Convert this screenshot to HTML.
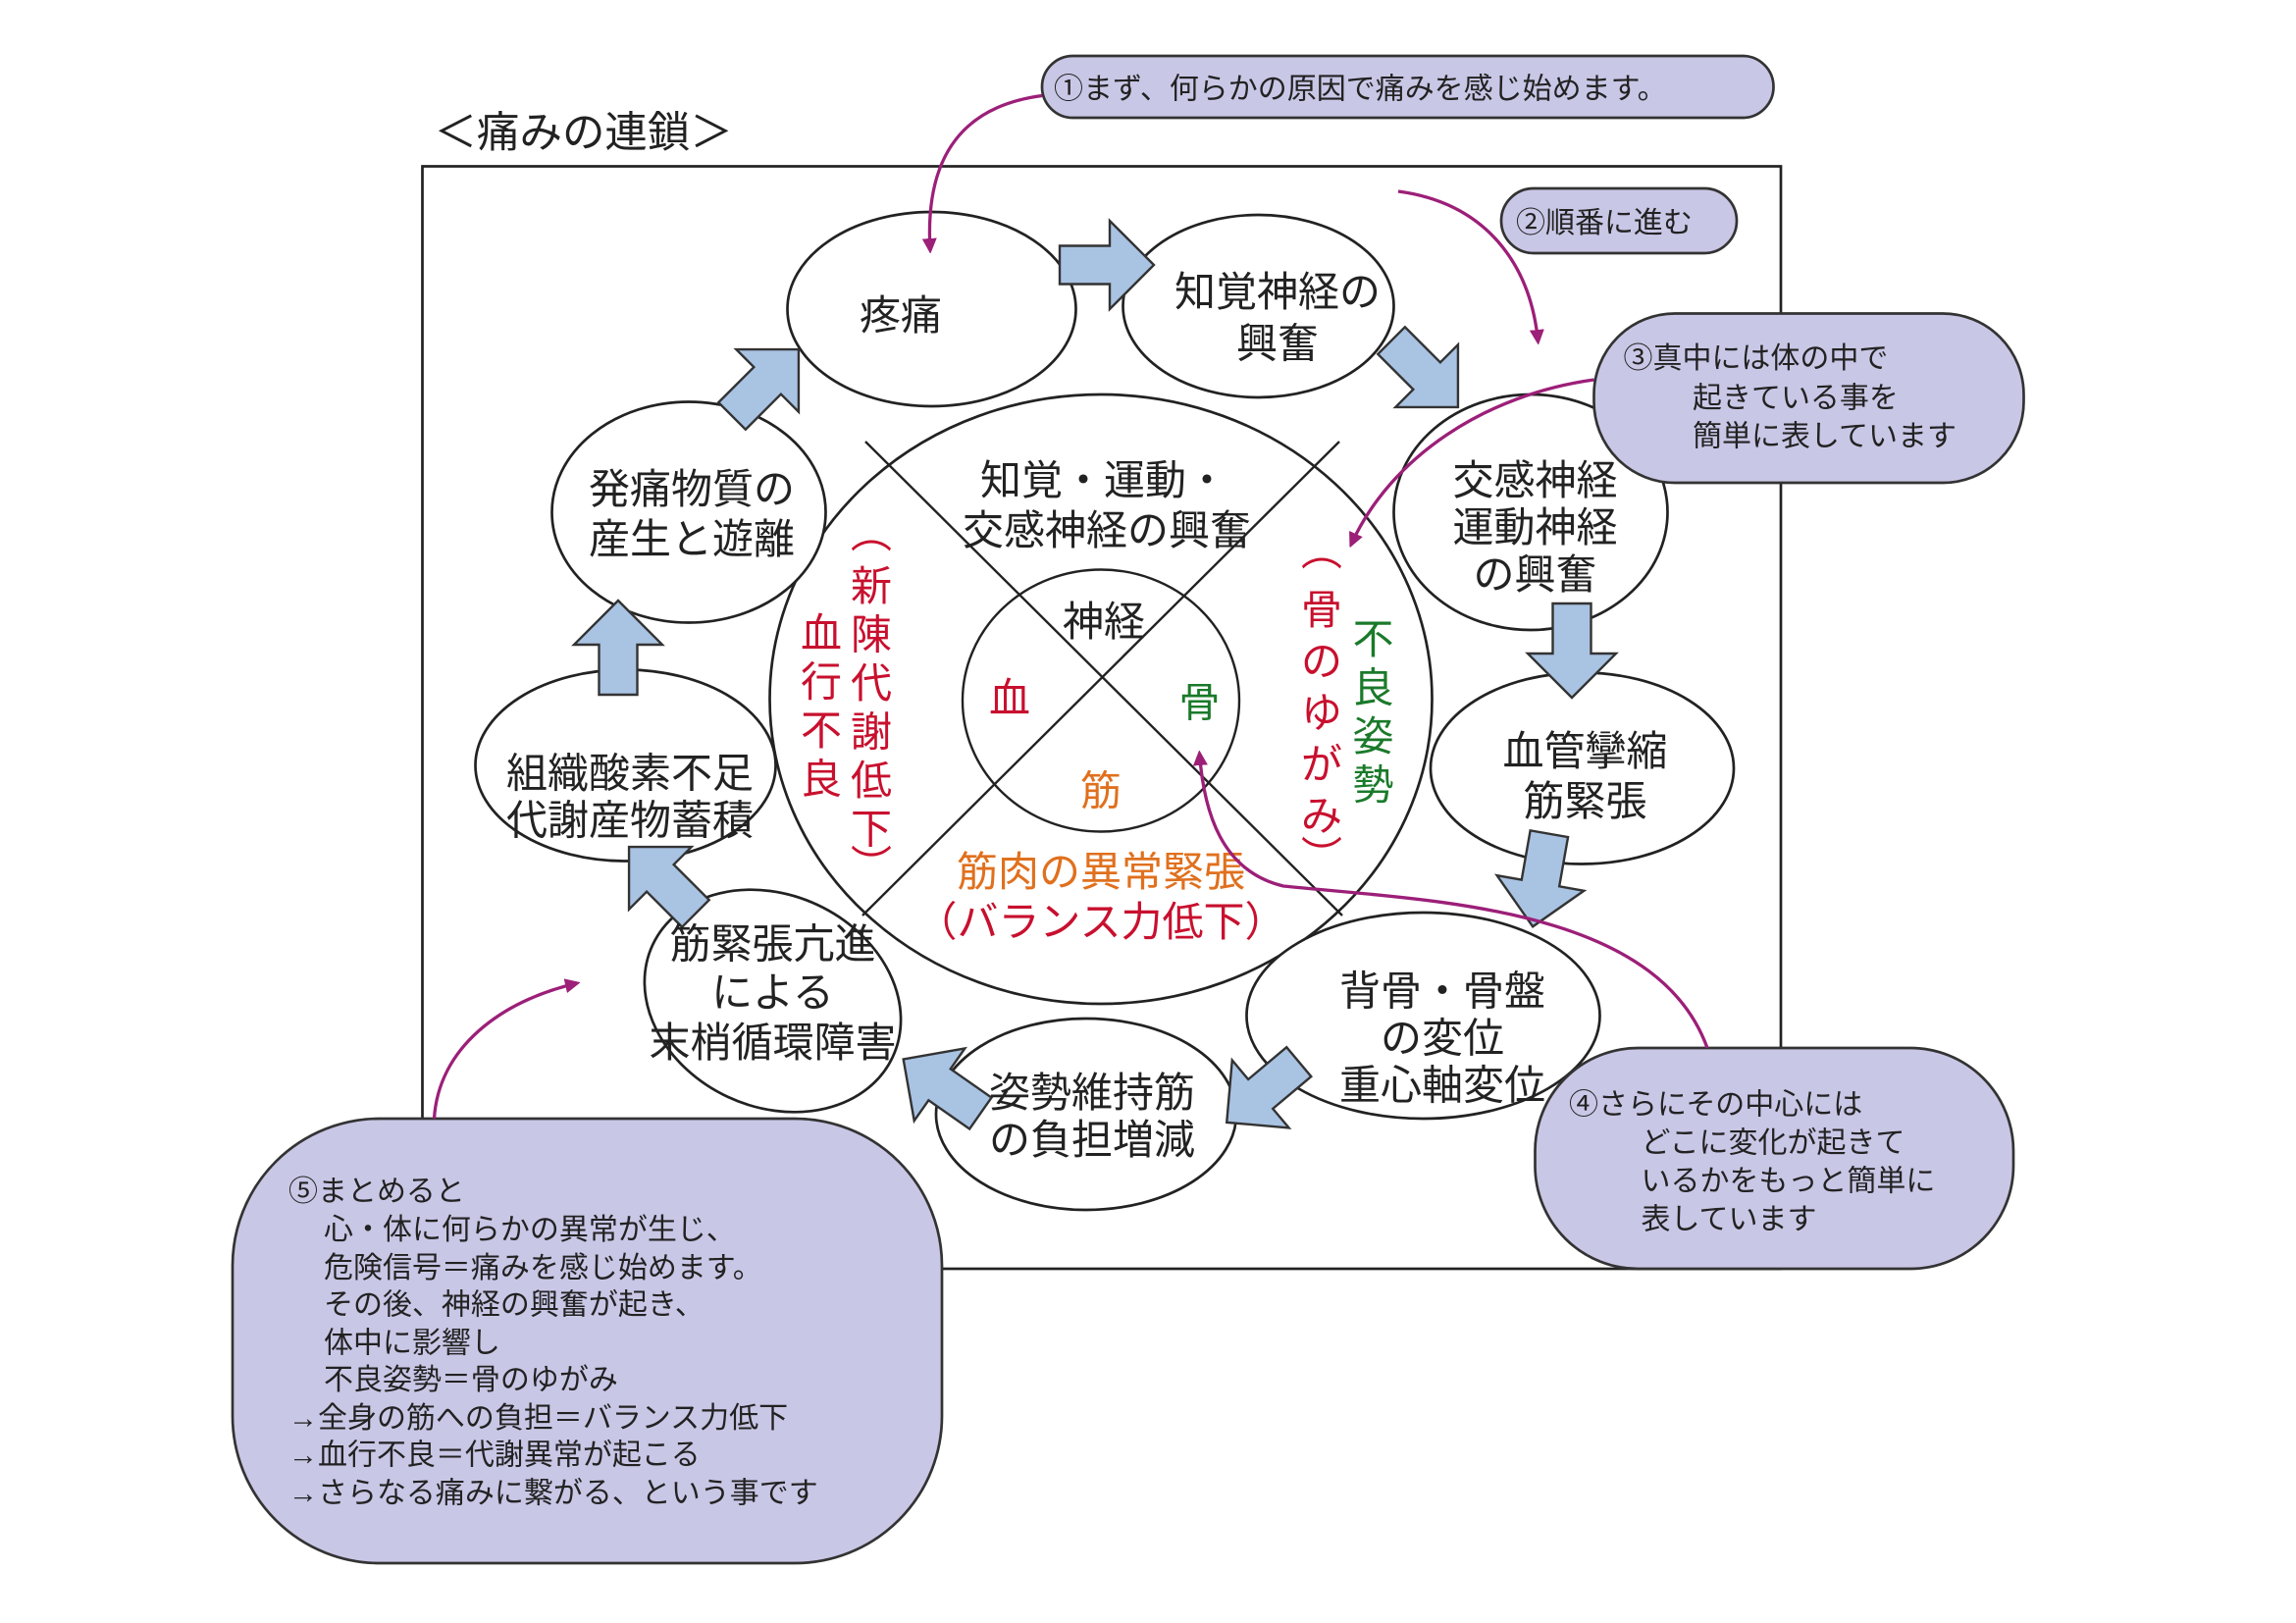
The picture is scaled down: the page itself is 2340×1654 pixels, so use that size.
<!DOCTYPE html>
<html><head><meta charset="utf-8"><style>
html,body{margin:0;padding:0;background:#fff}
svg{display:block}
text{font-family:"Liberation Sans","Noto Sans CJK JP",sans-serif;fill:#222}
</style></head><body>
<svg width="2340" height="1654" viewBox="0 0 1560 1102.67" xmlns="http://www.w3.org/2000/svg">
<defs>
<marker id="mh" markerWidth="10" markerHeight="10" refX="8" refY="5" orient="auto" markerUnits="userSpaceOnUse"><path d="M0,0 L14,5 L0,10 Z" fill="#9c1f78" transform="scale(0.75,1)"/></marker>
<path id="ar" d="M-32,-13 L2,-13 L2,-30 L32,0 L2,30 L2,13 L-32,13 Z" fill="#a9c3e3" stroke="#333" stroke-width="1.6"/>
</defs>
<text x="295" y="100" font-size="29">＜痛みの連鎖＞</text>
<rect x="287" y="113" width="923" height="749" fill="none" stroke="#222" stroke-width="1.8"/>

<ellipse cx="748" cy="475" rx="225" ry="207" fill="#fff" stroke="#222" stroke-width="1.8"/>
<line x1="588" y1="300" x2="912" y2="622" stroke="#222" stroke-width="1.6"/>
<line x1="910" y1="300" x2="586" y2="622" stroke="#222" stroke-width="1.6"/>
<ellipse cx="748" cy="476" rx="94" ry="89" fill="none" stroke="#222" stroke-width="1.6"/>

<g fill="#fff" stroke="#222" stroke-width="1.8">
<ellipse cx="633" cy="210" rx="98" ry="66"/>
<ellipse cx="855" cy="208" rx="92" ry="62"/>
<ellipse cx="1040" cy="348" rx="93" ry="80"/>
<ellipse cx="1075" cy="522" rx="103" ry="65"/>
<ellipse cx="967" cy="690" rx="120" ry="70"/>
<ellipse cx="738" cy="757" rx="102" ry="65"/>
<ellipse cx="525" cy="680" rx="90" ry="72" transform="rotate(25 525 680)"/>
<ellipse cx="425" cy="520" rx="102" ry="65"/>
<ellipse cx="468" cy="348" rx="93" ry="75"/>
</g>

<use href="#ar" transform="translate(752,180)"/>
<use href="#ar" transform="translate(968,254) rotate(45)"/>
<use href="#ar" transform="translate(1068,442) rotate(90)"/>
<use href="#ar" transform="translate(1047,598) rotate(100)"/>
<use href="#ar" transform="translate(858,742) rotate(140)"/>
<use href="#ar" transform="translate(640,738) rotate(215)"/>
<use href="#ar" transform="translate(450,598) rotate(225)"/>
<use href="#ar" transform="translate(420,440) rotate(270)"/>
<use href="#ar" transform="translate(520,260) rotate(-45)"/>

<g font-size="28" text-anchor="middle">
<text x="612" y="224">疼痛</text>
<text x="868" y="208">知覚神経の</text><text x="868" y="243">興奮</text>
<text x="1043" y="336">交感神経</text><text x="1043" y="368">運動神経</text><text x="1043" y="400">の興奮</text>
<text x="1077" y="520">血管攣縮</text><text x="1077" y="554">筋緊張</text>
<text x="980" y="683">背骨・骨盤</text><text x="980" y="715">の変位</text><text x="980" y="747">重心軸変位</text>
<text x="742" y="752">姿勢維持筋</text><text x="742" y="784">の負担増減</text>
<text x="525" y="651">筋緊張亢進</text><text x="525" y="684">による</text><text x="525" y="718">末梢循環障害</text>
<text x="428" y="535">組織酸素不足</text><text x="428" y="567">代謝産物蓄積</text>
<text x="470" y="342">発痛物質の</text><text x="470" y="376">産生と遊離</text>
<text x="750" y="336">知覚・運動・</text><text x="752" y="370">交感神経の興奮</text>
<text x="750" y="432">神経</text>
<text x="686" y="484" style="fill:#c8102e">血</text>
<text x="815" y="487" style="fill:#1a7a2a">骨</text>
<text x="748" y="547" style="fill:#e0701e">筋</text>
<text x="748" y="602" style="fill:#e0701e">筋肉の異常緊張</text>
<text x="748" y="636" style="fill:#c8102e">（バランス力低下）</text>
</g>
<g font-size="28" text-anchor="middle">
<text x="592" y="372" style="fill:#c8102e">︵</text>
<text x="592" y="408" style="fill:#c8102e">新</text>
<text x="592" y="441" style="fill:#c8102e">陳</text>
<text x="592" y="474" style="fill:#c8102e">代</text>
<text x="592" y="507" style="fill:#c8102e">謝</text>
<text x="592" y="540" style="fill:#c8102e">低</text>
<text x="592" y="573" style="fill:#c8102e">下</text>
<text x="592" y="598" style="fill:#c8102e">︶</text>
<text x="558" y="440" style="fill:#c8102e">血</text>
<text x="558" y="473" style="fill:#c8102e">行</text>
<text x="558" y="506" style="fill:#c8102e">不</text>
<text x="558" y="539" style="fill:#c8102e">良</text>
<text x="898" y="384" style="fill:#c8102e">︵</text>
<text x="898" y="424" style="fill:#c8102e">骨</text>
<text x="898" y="459" style="fill:#c8102e">の</text>
<text x="898" y="494" style="fill:#c8102e">ゆ</text>
<text x="898" y="529" style="fill:#c8102e">が</text>
<text x="898" y="564" style="fill:#c8102e">み</text>
<text x="898" y="592" style="fill:#c8102e">︶</text>
<text x="933" y="444" style="fill:#1a7a2a">不</text>
<text x="933" y="477" style="fill:#1a7a2a">良</text>
<text x="933" y="510" style="fill:#1a7a2a">姿</text>
<text x="933" y="543" style="fill:#1a7a2a">勢</text>
</g>

<g fill="#c9c7e6" stroke="#333" stroke-width="1.8">
<rect x="708" y="38" width="497" height="42" rx="21"/>
<rect x="1020" y="128" width="160" height="44" rx="22"/>
<rect x="1083" y="213" width="292" height="115" rx="55"/>
<rect x="1043" y="712" width="325" height="150" rx="70"/>
<rect x="158" y="760" width="482" height="302" rx="100"/>
</g>
<g font-size="20">
<text x="716" y="67">①まず、何らかの原因で痛みを感じ始めます。</text>
<text x="1030" y="158">②順番に進む</text>
<text x="1103" y="250">③真中には体の中で</text>
<text x="1150" y="277">起きている事を</text>
<text x="1150" y="303">簡単に表しています</text>
<text x="1066" y="757">④さらにその中心には</text>
<text x="1115" y="783">どこに変化が起きて</text>
<text x="1115" y="809">いるかをもっと簡単に</text>
<text x="1115" y="835">表しています</text>
<text x="196" y="816">⑤まとめると</text>
<text x="220" y="842">心・体に何らかの異常が生じ、</text>
<text x="220" y="868">危険信号＝痛みを感じ始めます。</text>
<text x="220" y="893">その後、神経の興奮が起き、</text>
<text x="220" y="919">体中に影響し</text>
<text x="220" y="944">不良姿勢＝骨のゆがみ</text>
<text x="196" y="970">→全身の筋への負担＝バランス力低下</text>
<text x="196" y="995">→血行不良＝代謝異常が起こる</text>
<text x="196" y="1021">→さらなる痛みに繋がる、という事です</text>
</g>

<g fill="none" stroke="#9c1f78" stroke-width="2.2" marker-end="url(#mh)">
<path d="M708,65 C655,72 628,105 632,170"/>
<path d="M950,130 C1010,138 1040,180 1045,232"/>
<path d="M1083,258 C1010,268 945,310 918,370"/>
<path d="M1160,712 C1125,615 970,612 872,602 C830,592 818,552 815,512"/>
<path d="M295,760 C298,712 340,680 392,668"/>
</g>
</svg>
</body></html>
